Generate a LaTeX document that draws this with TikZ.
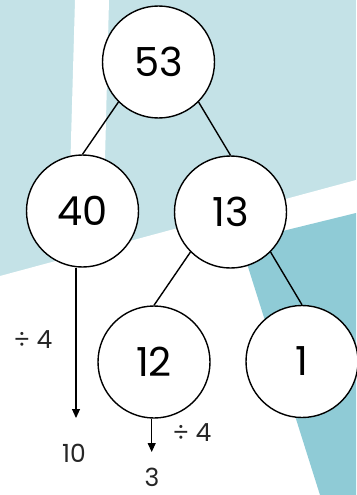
\documentclass[tikz,border=0pt]{standalone}
\usepackage{fontspec}
\setmainfont{Poppins}
\usepackage{xcolor}
\usetikzlibrary{arrows.meta}
\definecolor{palesky}{HTML}{C4E2E7}
\definecolor{deepteal}{HTML}{8FCBD6}

\begin{document}
\begin{tikzpicture}[x=1pt, y=-1pt,
    numcircle/.style={circle, draw=black, fill=white, line width=1.4pt,
      minimum size=112pt, inner sep=0pt, font=\fontsize{40}{40}\selectfont},
    branch/.style={draw=black, line width=1.4pt},
    splitarrow/.style={draw=black, line width=1.1pt, -{Triangle[width=8pt,length=9pt]}},
    lbl/.style={font=\fontsize{25}{25}\selectfont, text=black!85},
  ]

  \useasboundingbox (0,0) rectangle (356,495);

  % ---- background panels
  \begin{scope}
    \clip (0,0) rectangle (356,495);
    \fill[palesky] (0,0) rectangle (356,495);
    \fill[white] (75,0) -- (109,0) -- (102,280) -- (67,280) -- cycle;
    \fill[white] (0,276) -- (356,180) -- (356,495) -- (0,495) -- cycle;
    \fill[deepteal] (240,241.5) -- (356,213) -- (356,495) -- (320,495) -- cycle;
  \end{scope}

  % ---- the split tree
  \foreach \name/\x/\y/\val in {%
      n53/158.5/62/53,
      n40/82.5/211/40,
      n13/230.5/212/13,
      n12/154/362/12,
      n1/302/361.5/1} {
    \node[numcircle] (\name) at (\x,\y) {\val};
  }

  \draw[branch] (n53.south west) -- (n40.north);
  \draw[branch] (n53.south east) -- (n13.north);
  \draw[branch] (n13.south west) -- (n12.north);
  \draw[branch] (n13.south east) -- (n1.north);

  % ---- dividing each part by four
  \coordinate (t10) at (76,418);
  \coordinate (t3) at (151.7,452);
  \draw[splitarrow] (n40.south -| t10) -- (t10);
  \draw[splitarrow] (n12.south -| t3) -- (t3);

  \node[lbl] (r10) at (74,453) {10};
  \node[lbl] (r3) at (152,477) {3};
  \node[lbl] (d40) at (33,340) {÷ 4};
  \node[lbl] (d12) at (192,433) {÷ 4};

\end{tikzpicture}
\end{document}
